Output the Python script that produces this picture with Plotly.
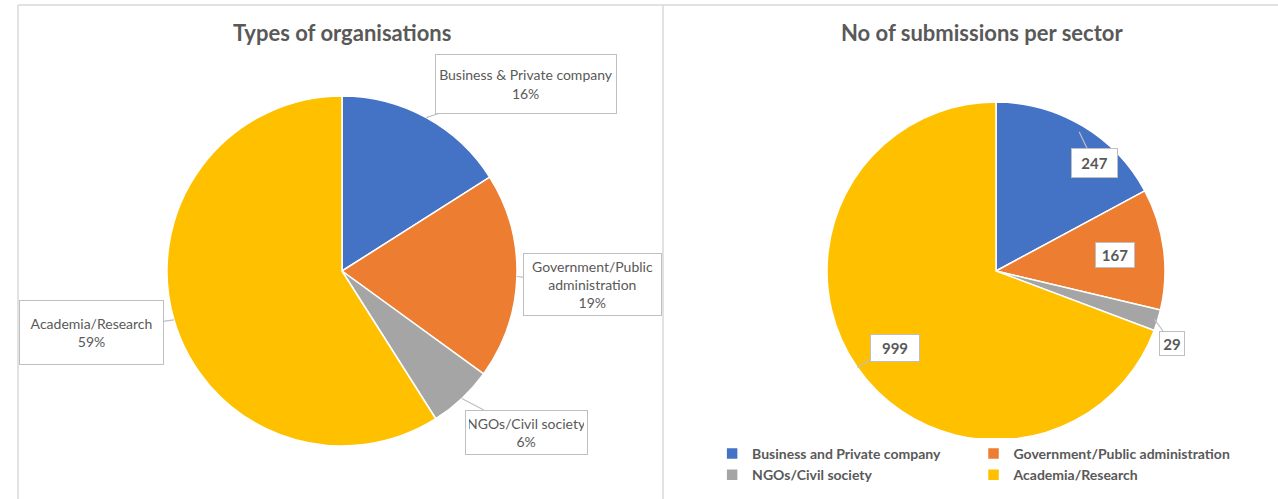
import math
import plotly.graph_objects as go

# ---- data ----
org_labels = ["Business & Private company", "Government/Public administration",
              "NGOs/Civil society", "Academia/Research"]
org_pct = [16, 19, 6, 59]

sector_labels = ["Business and Private company", "Government/Public administration",
                 "NGOs/Civil society", "Academia/Research"]
sector_counts = [247, 167, 29, 999]

colors = ["#4472C4", "#ED7D31", "#A5A5A5", "#FFC000"]

W, H = 1278, 499
MR = 43                      # right margin (lets the legend wrap into two columns)
GW = W - MR                  # plot-area width in px
FONT = "Lato"
TXT = "#595959"
BORDER = "#BFBFBF"

# pie geometry in pixels (centre x, centre y, radius)
L = (342, 271, 175)
R = (996, 271, 169)


def xp(px):
    return px / GW


def yp(py):
    return 1 - py / H


def domain(g):
    cx, cy, r = g
    return dict(x=[xp(cx - r), xp(cx + r)], y=[yp(cy + r), yp(cy - r)])


def mid_point(g, values, i, rf=1.0):
    cx, cy, r = g
    tot = sum(values)
    start = sum(values[:i]) / tot
    mid = start + values[i] / tot / 2
    a = 2 * math.pi * mid
    return cx + rf * r * math.sin(a), cy - rf * r * math.cos(a)


fig = go.Figure()
fig.add_trace(go.Pie(
    labels=org_labels, values=org_pct, domain=domain(L), sort=False,
    direction="clockwise", rotation=0, textinfo="none", hoverinfo="label+percent",
    marker=dict(colors=colors, line=dict(color="white", width=1.5)),
    showlegend=False, name="orgs"))
fig.add_trace(go.Pie(
    labels=sector_labels, values=sector_counts, domain=domain(R), sort=False,
    direction="clockwise", rotation=0, textinfo="none", hoverinfo="label+value",
    marker=dict(colors=colors, line=dict(color="white", width=1.5)),
    showlegend=True, name="sectors"))

annotations = []

# left callouts: (box centre px, width, height)
left_boxes = [((526, 84), 174, 52), ((592, 284), 131, 55), ((526, 432), 115, 37), ((91, 332), 137, 57)]
left_text = ["Business & Private company", "Government/Public<br>administration",
             "NGOs/Civil society", "Academia/Research"]
tot = sum(org_pct)
for i, ((bx, by), bw, bh) in enumerate(left_boxes):
    px, py = mid_point(L, org_pct, i)
    annotations.append(dict(
        x=xp(px), y=yp(py), xref="paper", yref="paper",
        ax=bx - px, ay=by - py, axref="pixel", ayref="pixel",
        text=f"{left_text[i]}<br>{round(100 * org_pct[i] / tot)}%",
        showarrow=True, arrowhead=0, arrowwidth=1.2, arrowcolor=BORDER,
        bordercolor=BORDER, borderwidth=1, borderpad=3, bgcolor="white",
        width=bw, height=bh, align="center",
        font=dict(family=FONT, size=14, color=TXT)))

right_boxes = [((1094, 163), 39, 22, 0.96), ((1115, 255), 32, 18, 0.72), ((1172, 343), 18, 17, 0.98), ((895, 348), 42, 20, 1.0)]
for i, ((bx, by), bw, bh, rf) in enumerate(right_boxes):
    px, py = mid_point(R, sector_counts, i, rf)
    annotations.append(dict(
        x=xp(px), y=yp(py), xref="paper", yref="paper",
        ax=bx - px, ay=by - py, axref="pixel", ayref="pixel",
        text=f"<b>{sector_counts[i]}</b>",
        showarrow=True, arrowhead=0, arrowwidth=1.2, arrowcolor=BORDER,
        bordercolor=BORDER, borderwidth=1, borderpad=3, bgcolor="white",
        width=bw, height=bh, align="center",
        font=dict(family=FONT, size=15, color=TXT)))

annotations.append(dict(x=xp(342), y=yp(33), xref="paper", yref="paper", showarrow=False,
                        xanchor="center", yanchor="middle",
                        text="<b>Types of organisations</b>",
                        font=dict(family=FONT, size=22, color=TXT)))
annotations.append(dict(x=xp(982), y=yp(33), xref="paper", yref="paper", showarrow=False,
                        xanchor="center", yanchor="middle",
                        text="<b>No of submissions per sector</b>",
                        font=dict(family=FONT, size=22, color=TXT)))

LINE = dict(color="#D9D9D9", width=1.5)
shapes = [
    dict(type="line", xref="paper", yref="paper", x0=xp(18), x1=xp(W), y0=yp(5), y1=yp(5), line=LINE),
    dict(type="line", xref="paper", yref="paper", x0=xp(18), x1=xp(18), y0=0, y1=yp(5), line=LINE),
    dict(type="line", xref="paper", yref="paper", x0=xp(663), x1=xp(663), y0=0, y1=yp(5), line=LINE),
]

fig.update_layout(
    width=W, height=H, autosize=False,
    margin=dict(l=0, r=MR, t=0, b=0),
    paper_bgcolor="white", plot_bgcolor="white",
    font=dict(family=FONT, color=TXT),
    annotations=annotations, shapes=shapes,
    legend=dict(orientation="h", x=1.0001, y=yp(438), xanchor="right", yanchor="top",
                traceorder="normal",
                font=dict(family=FONT, size=14, color=TXT, weight="bold"),
                itemclick=False, itemdoubleclick=False, tracegroupgap=0),
)

fig.write_html("out.html", config={"displayModeBar": False},
               post_script="document.body.style.margin='0';document.body.style.overflow='hidden';")
